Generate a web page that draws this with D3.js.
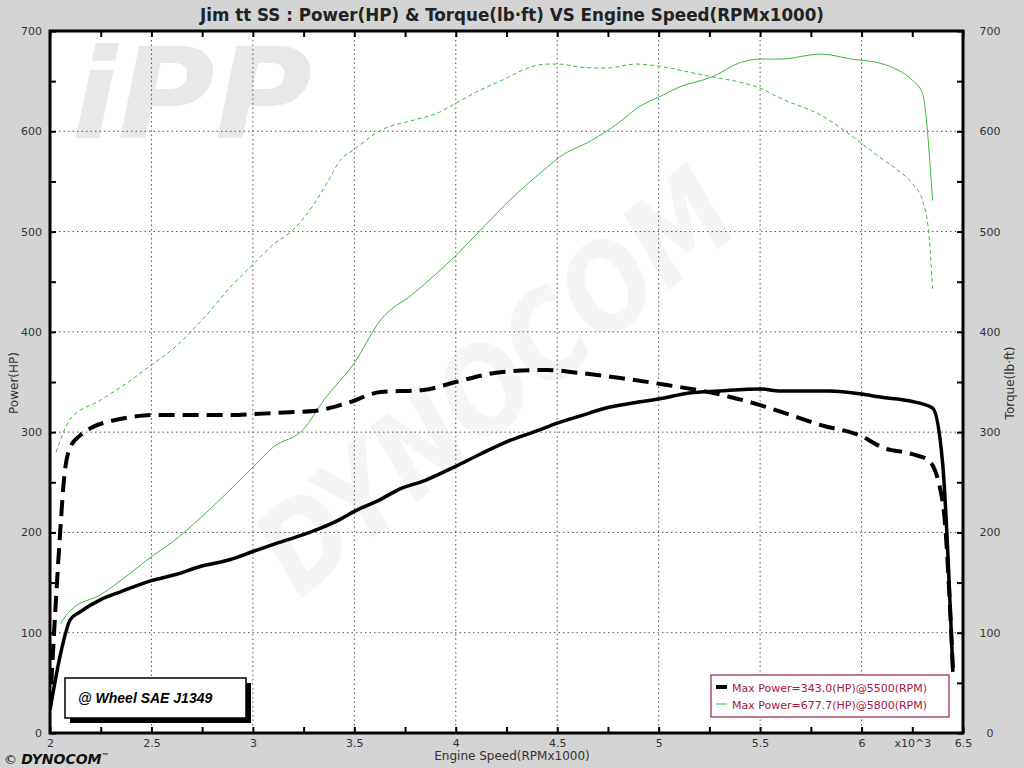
<!DOCTYPE html>
<html><head><meta charset="utf-8">
<script src="https://cdn.jsdelivr.net/npm/d3@7"></script>
<style>body{margin:0;background:#d4d4d4;}svg{display:block;}</style>
</head><body>
<script>
// ---- data ----
const xTicksMajor = [2, 2.5, 3, 3.5, 4, 4.5, 5, 5.5, 6, 6.5];
const yTicksMajor = [0, 100, 200, 300, 400, 500, 600, 700];

const run1Rpm = [2.0, 2.05, 2.1, 2.15, 2.25, 2.35, 2.5, 2.62, 2.74, 2.89, 3.0, 3.13, 3.28, 3.43, 3.5, 3.63, 3.72, 3.85, 4.0, 4.12, 4.27, 4.41, 4.5, 4.61, 4.76, 4.9, 5.0, 5.15, 5.3, 5.5, 5.6, 5.84, 6.0, 6.09, 6.24, 6.35, 6.4, 6.45];
const run1Power = [23, 77, 113, 121, 133, 141, 152, 158, 166, 173, 181, 190, 200, 213, 221, 233, 243, 252, 266, 278, 292, 302, 309, 316, 325, 330, 333, 339, 341, 343, 341, 341, 338, 335, 331, 324, 268, 61];

const run1TqRpm = [2.0, 2.02, 2.05, 2.07, 2.1, 2.15, 2.22, 2.3, 2.4, 2.5, 2.6, 2.75, 2.9, 3.0, 3.2, 3.3, 3.45, 3.63, 3.84, 4.0, 4.23, 4.45, 4.61, 4.81, 5.04, 5.27, 5.5, 5.65, 5.8, 6.0, 6.1, 6.25, 6.33, 6.4, 6.45];
const run1Torque = [25, 100, 200, 255, 285, 297, 306, 311, 315, 317, 317, 317, 317, 318, 320, 321, 328, 340, 342, 350, 360, 362, 359, 354, 347, 339, 327, 317, 307, 296, 285, 278, 272, 230, 65];

const run2Rpm = [2.05, 2.1, 2.25, 2.4, 2.5, 2.6, 2.75, 2.9, 3.0, 3.1, 3.25, 3.35, 3.5, 3.63, 3.79, 4.01, 4.12, 4.28, 4.45, 4.51, 4.67, 4.8, 4.9, 5.0, 5.1, 5.26, 5.41, 5.5, 5.6, 5.8, 5.95, 6.09, 6.18, 6.25, 6.3, 6.35];
const run2Power = [109, 122, 138, 160, 176, 190, 216, 245, 265, 285, 303, 332, 369, 412, 438, 478, 501, 534, 564, 574, 591, 608, 624, 634, 644, 654, 669, 672, 672, 677, 672, 668, 661, 651, 638, 531];

const run2TqRpm = [2.03, 2.1, 2.25, 2.4, 2.5, 2.6, 2.75, 2.9, 3.0, 3.1, 3.2, 3.3, 3.37, 3.43, 3.5, 3.63, 3.79, 3.92, 4.0, 4.12, 4.25, 4.33, 4.45, 4.51, 4.61, 4.74, 4.89, 5.0, 5.15, 5.27, 5.4, 5.5, 5.6, 5.8, 6.0, 6.09, 6.18, 6.25, 6.3, 6.33, 6.35];
const run2Torque = [280, 313, 332, 352, 367, 382, 412, 447, 467, 487, 502, 527, 550, 571, 582, 601, 611, 619, 628, 641, 653, 661, 667, 667, 664, 663, 667, 665, 659, 654, 649, 643, 633, 616, 588, 574, 561, 548, 531, 501, 443];

const legendTexts = ["Max Power=343.0(HP)@5500(RPM)", "Max Power=677.7(HP)@5800(RPM)"];
const titleText = "Jim tt SS : Power(HP) & Torque(lb\u00b7ft) VS Engine Speed(RPMx1000)";

// ---- drawing ----
const W = 1024, H = 768;
const svg = d3.select("body").append("svg").attr("width", W).attr("height", H);
svg.append("rect").attr("width", W).attr("height", H).attr("fill", "#d4d4d4");

const x = d3.scaleLinear().domain([2, 6.5]).range([50, 963]);
const y = d3.scaleLinear().domain([0, 700]).range([733, 31]);
const X0 = x(2), X1 = x(6.5), Y0 = y(0), Y1 = y(700);

svg.append("rect").attr("x", X0).attr("y", Y1).attr("width", X1 - X0).attr("height", Y0 - Y1).attr("fill", "#fff");

svg.append("defs").append("clipPath").attr("id", "clip")
  .append("rect").attr("x", X0).attr("y", Y1).attr("width", X1 - X0).attr("height", Y0 - Y1);

// watermarks
const wm = svg.append("g").attr("clip-path", "url(#clip)");
wm.append("text").attr("x", 72).attr("y", 138)
  .attr("font-family", "DejaVu Sans").attr("font-weight", "bold").attr("font-style", "italic")
  .attr("font-size", 125).attr("fill", "#e8e8e8")
  .attr("textLength", 240).attr("lengthAdjust", "spacingAndGlyphs").text("iPP");
wm.append("text").attr("transform", "translate(300,600) rotate(-40)")
  .attr("font-family", "DejaVu Sans").attr("font-weight", "bold").attr("font-style", "italic")
  .attr("font-size", 120).attr("fill", "#f5f5f5")
  .attr("textLength", 580).attr("lengthAdjust", "spacingAndGlyphs").text("DYNOCOM");

// gridlines
const grid = svg.append("g");
grid.selectAll("line.gx").data(xTicksMajor.filter(d => d > 2 && d < 6.5)).join("line")
  .attr("x1", d => x(d)).attr("x2", d => x(d)).attr("y1", Y1).attr("y2", Y0)
  .attr("stroke", "#555").attr("stroke-width", 1).attr("stroke-dasharray", "1.5,3");
grid.selectAll("line.gy").data(yTicksMajor.filter(d => d > 0 && d < 700)).join("line")
  .attr("x1", X0).attr("x2", X1).attr("y1", d => y(d)).attr("y2", d => y(d))
  .attr("stroke", "#555").attr("stroke-width", 1).attr("stroke-dasharray", "1.5,3");

// curves
const lines = svg.append("g").attr("clip-path", "url(#clip)");
function drawLine(rpm, vals, color, width, dash) {
  const data = rpm.map((r, i) => [r, vals[i]]);
  const gen = d3.line().x(d => x(d[0])).y(d => y(d[1])).curve(d3.curveMonotoneX);
  lines.append("path").attr("d", gen(data)).attr("fill", "none")
    .attr("stroke", color).attr("stroke-width", width)
    .attr("stroke-dasharray", dash || null).attr("stroke-linejoin", "round");
}
drawLine(run2TqRpm, run2Torque, "#3cb83c", 1, "4,3");
drawLine(run2Rpm, run2Power, "#3cb83c", 1, null);
drawLine(run1TqRpm, run1Torque, "#000", 4, "16,8");
drawLine(run1Rpm, run1Power, "#000", 3.5, null);

// axes
const fineX = d3.range(2, 6.5001, 0.25);
const fineY = d3.range(0, 700.001, 50);
const fmtX = d => (d === 6.25 ? "x10^3" : (Math.abs(d * 2 - Math.round(d * 2)) < 1e-6 ? d3.format("")(+d.toFixed(1)) : ""));
const fmtY = d => (d % 100 === 0 ? d : "");
function styleAxis(g) {
  g.select(".domain").remove();
  g.selectAll(".tick line").attr("stroke", "#000").attr("stroke-width", 2);
  g.selectAll("text").attr("font-family", "DejaVu Sans").attr("font-size", 11).attr("fill", "#333");
}
svg.append("g").attr("transform", `translate(0,${Y0})`)
  .call(d3.axisBottom(x).tickValues(fineX).tickSize(-6).tickPadding(6).tickFormat(fmtX)).call(styleAxis);
svg.append("g").attr("transform", `translate(0,${Y1})`)
  .call(d3.axisTop(x).tickValues(fineX).tickSize(-6).tickFormat(() => "")).call(styleAxis);
svg.append("g").attr("transform", `translate(${X0},0)`)
  .call(d3.axisLeft(y).tickValues(fineY).tickSize(-6).tickPadding(8).tickFormat(fmtY)).call(styleAxis);
const ra = svg.append("g").attr("transform", `translate(${X1},0)`)
  .call(d3.axisRight(y).tickValues(fineY).tickSize(-6).tickPadding(27).tickFormat(fmtY)).call(styleAxis);
ra.selectAll("text").attr("text-anchor", "middle");

// frame
svg.append("rect").attr("x", X0).attr("y", Y1).attr("width", X1 - X0).attr("height", Y0 - Y1)
  .attr("fill", "none").attr("stroke", "#000").attr("stroke-width", 3);

// title & axis labels
svg.append("text").attr("x", 512).attr("y", 21).attr("text-anchor", "middle")
  .attr("font-family", "DejaVu Sans Condensed, DejaVu Sans").attr("font-weight", "bold")
  .attr("font-size", 17).attr("fill", "#222")
  .attr("textLength", 624).attr("lengthAdjust", "spacingAndGlyphs").text(titleText);
svg.append("text").attr("x", 512).attr("y", 760).attr("text-anchor", "middle")
  .attr("font-family", "DejaVu Sans").attr("font-size", 12).attr("fill", "#333").text("Engine Speed(RPMx1000)");
svg.append("text").attr("transform", "translate(18,383) rotate(-90)").attr("text-anchor", "middle")
  .attr("font-family", "DejaVu Sans").attr("font-size", 12).attr("fill", "#333").text("Power(HP)");
svg.append("text").attr("transform", "translate(1014,383) rotate(-90)").attr("text-anchor", "middle")
  .attr("font-family", "DejaVu Sans").attr("font-size", 12).attr("fill", "#333").text("Torque(lb\u00b7ft)");

// SAE box
svg.append("rect").attr("x", 70).attr("y", 683).attr("width", 181).attr("height", 40).attr("fill", "#000");
svg.append("rect").attr("x", 65).attr("y", 678).attr("width", 181).attr("height", 40)
  .attr("fill", "#fff").attr("stroke", "#000").attr("stroke-width", 1.5);
svg.append("text").attr("x", 78).attr("y", 703)
  .attr("font-family", "Liberation Sans, Arial").attr("font-weight", "bold").attr("font-style", "italic")
  .attr("font-size", 14).attr("fill", "#000").text("@ Wheel SAE J1349");

// legend
const lg = svg.append("g");
lg.append("rect").attr("x", 711).attr("y", 675).attr("width", 238).attr("height", 42)
  .attr("fill", "#fff").attr("stroke", "#9b1e45").attr("stroke-width", 1.2);
lg.append("line").attr("x1", 716).attr("x2", 727).attr("y1", 687).attr("y2", 687).attr("stroke", "#000").attr("stroke-width", 4);
lg.append("line").attr("x1", 716).attr("x2", 727).attr("y1", 704).attr("y2", 704).attr("stroke", "#3cb83c").attr("stroke-width", 1);
lg.selectAll("text.lt").data(legendTexts).join("text")
  .attr("x", 732).attr("y", (d, i) => 692 + i * 17)
  .attr("font-family", "DejaVu Sans").attr("font-size", 11).attr("fill", "#a3163f").text(d => d);

// DYNOCOM logo
const logo = svg.append("text").attr("x", 4).attr("y", 764).attr("fill", "#111");
logo.append("tspan").attr("font-family", "DejaVu Sans").attr("font-size", 13).text("\u00a9 ");
logo.append("tspan").attr("font-family", "DejaVu Sans").attr("font-weight", "bold").attr("font-style", "italic")
  .attr("font-size", 14).text("DYNOCOM");
logo.append("tspan").attr("font-family", "DejaVu Sans").attr("font-size", 8).attr("dy", -5).text("\u2122");
</script>
</body></html>
